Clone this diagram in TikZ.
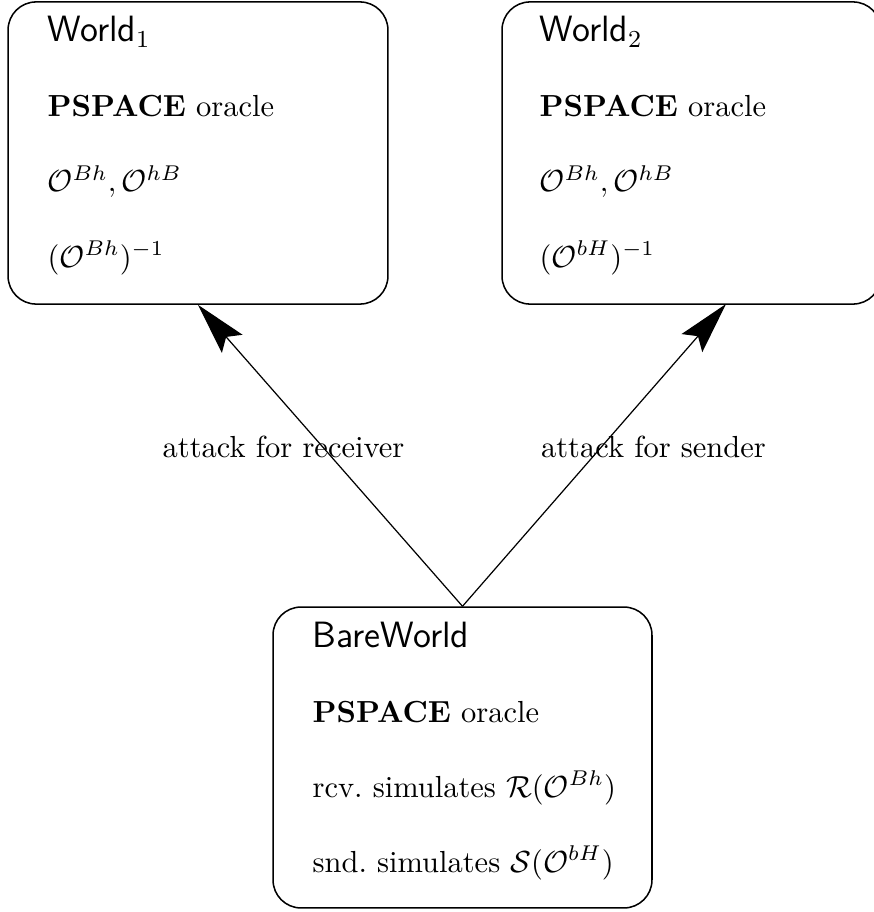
\documentclass[tikz,border=0pt]{standalone}
\usepackage{amsmath}
\usetikzlibrary{arrows.meta}
\begin{document}
\begin{tikzpicture}[x=0.328pt,y=-0.328pt,
  world/.style={draw, line width=0.5pt, rounded corners=9.2pt, inner sep=0pt},
  title/.style={anchor=base west, font=\large\sffamily, inner sep=0pt},
  entry/.style={anchor=base west, inner sep=0pt},
  attack/.style={draw, line width=0.4pt, -{Stealth[length=17pt, width=9pt, inset=3pt]}},
  lbl/.style={inner sep=0pt}]
\useasboundingbox (0,0) rectangle (873,912);
% boxes
\node[world, minimum width=124.6pt, minimum height=99.1pt] (w1) at (198,153) {};
\node[world, minimum width=124.3pt, minimum height=99.1pt] (w2) at (691.5,153) {};
\node[world, minimum width=124.3pt, minimum height=98.7pt] (bare) at (462.5,757.5) {};
% World 1 text
\node[title] (w1t) at (47,42) {World$_1$};
\node[entry] (w1a) at (47,117) {\textbf{PSPACE} oracle};
\node[entry] (w1b) at (47,192) {$\mathcal{O}^{Bh},\mathcal{O}^{hB}$};
\node[entry] (w1c) at (47,267) {$(\mathcal{O}^{Bh})^{-1}$};
% World 2 text
\node[title] (w2t) at (539,42) {World$_2$};
\node[entry] (w2a) at (539,117) {\textbf{PSPACE} oracle};
\node[entry] (w2b) at (539,192) {$\mathcal{O}^{Bh},\mathcal{O}^{hB}$};
\node[entry] (w2c) at (539,267) {$(\mathcal{O}^{bH})^{-1}$};
% BareWorld text
\node[title] (bt) at (312,647) {BareWorld};
\node[entry] (ba) at (312,722) {\textbf{PSPACE} oracle};
\node[entry] (bb) at (312,797) {rcv.\ simulates $\mathcal{R}(\mathcal{O}^{Bh})$};
\node[entry] (bc) at (312,872) {snd.\ simulates $\mathcal{S}(\mathcal{O}^{bH})$};
% arrows
\coordinate (t2) at (726,304);
\draw[attack] (bare.north) -- (w1.south);
\draw[attack] (bare.north) -- (t2);
\node[lbl] (l1) at (283.5,447) {attack for receiver};
\node[lbl] (l2) at (653.5,447) {attack for sender};
\end{tikzpicture}
\end{document}
